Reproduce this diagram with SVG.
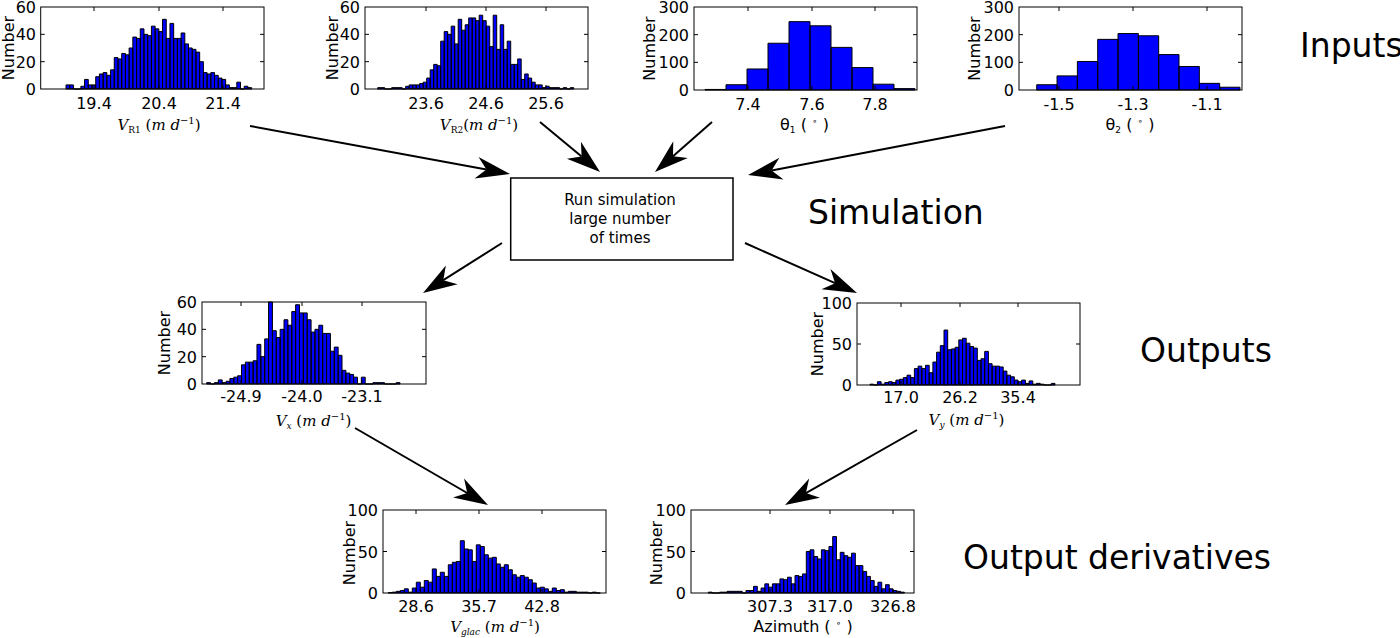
<svg xmlns="http://www.w3.org/2000/svg" width="1400" height="638" viewBox="0 0 1400 638">
<defs>
<style>
.ax{fill:none;stroke:#000;stroke-width:1}
.bar{fill:#0000ff;stroke:#000;stroke-width:1;vector-effect:non-scaling-stroke}
.tk{fill:none;stroke:#000;stroke-width:1}
.t{font-family:"DejaVu Sans",sans-serif;font-size:16px;fill:#000}
.yt{text-anchor:end}
.xt{text-anchor:middle}
.yl{font-size:16px;text-anchor:middle}
.ml{font-family:"DejaVu Serif",serif;font-size:15px;text-anchor:middle;fill:#000}
.it{font-style:italic}
.sb{font-size:9px}
.sp{font-size:10px}
.big{font-family:"DejaVu Sans",sans-serif;font-size:33px;fill:#000}
.bx{font-family:"DejaVu Sans",sans-serif;font-size:15px;text-anchor:middle;fill:#000}
#connectors line{stroke:#000;stroke-width:2;marker-end:url(#ah)}
</style>
<marker id="ah" markerUnits="userSpaceOnUse" viewBox="-2 -13 40 26" refX="10" refY="0" markerWidth="40" markerHeight="26" orient="auto" overflow="visible">
<path d="M34,0 L0,-11 L10,0 L0,11 Z" fill="#000"/>
</marker>
</defs>
<rect width="1400" height="638" fill="#fff"/>

<!-- H1 V_R1 -->
<g id="hist-vr1">
<path class="bar" transform="translate(66,89) scale(3.713,-1.3667)" d="M0,0v3h1v-3zm1,0v3h1v-3zm1,0v0h1v0zm1,0v0h1v0zm1,0v2h1v-2zm1,0v7h1v-7zm1,0v3h1v-3zm1,0v3h1v-3zm1,0v9h1v-9zm1,0v11h1v-11zm1,0v12h1v-12zm1,0v10h1v-10zm1,0v14h1v-14zm1,0v23h1v-23zm1,0v22h1v-22zm1,0v26h1v-26zm1,0v25h1v-25zm1,0v30h1v-30zm1,0v38h1v-38zm1,0v37h1v-37zm1,0v44h1v-44zm1,0v40h1v-40zm1,0v39h1v-39zm1,0v46h1v-46zm1,0v44h1v-44zm1,0v42h1v-42zm1,0v51h1v-51zm1,0v37h1v-37zm1,0v48h1v-48zm1,0v37h1v-37zm1,0v37h1v-37zm1,0v41h1v-41zm1,0v33h1v-33zm1,0v30h1v-30zm1,0v29h1v-29zm1,0v27h1v-27zm1,0v20h1v-20zm1,0v12h1v-12zm1,0v11h1v-11zm1,0v12h1v-12zm1,0v10h1v-10zm1,0v8h1v-8zm1,0v7h1v-7zm1,0v3h1v-3zm1,0v1h1v-1zm1,0v1h1v-1zm1,0v5h1v-5zm1,0v0h1v0zm1,0v2h1v-2zm1,0v1h1v-1z"/>
<rect class="ax" x="40.7" y="7" width="223.3" height="82"/>
<path class="tk" d="M94,89v-4M159,89v-4M223,89v-4M94,7v4M159,7v4M223,7v4M40.7,61.67h4M40.7,34.33h4M264,61.67h-4M264,34.33h-4"/>
<text class="t yt" x="36" y="95">0</text><text class="t yt" x="36" y="67.7">20</text><text class="t yt" x="36" y="40.3">40</text><text class="t yt" x="36" y="13">60</text>
<text class="t xt" x="94" y="109">19.4</text><text class="t xt" x="159" y="109">20.4</text><text class="t xt" x="223" y="109">21.4</text>
<text class="t yl" transform="translate(14,48) rotate(-90)">Number</text>
<text class="ml" x="159" y="130"><tspan class="it">V</tspan><tspan class="sb" dy="3">R1</tspan><tspan dy="-3">  (</tspan><tspan class="it">m d</tspan><tspan class="sp" dy="-6">−1</tspan><tspan dy="6">)</tspan></text>
</g>

<!-- H2 V_R2 -->
<g id="hist-vr2">
<path class="bar" transform="translate(377.7,89) scale(3.5,-1.3667)" d="M0,0v1h1v-1zm1,0v1h1v-1zm1,0v0h1v0zm1,0v0h1v0zm1,0v1h1v-1zm1,0v1h1v-1zm1,0v1h1v-1zm1,0v0h1v0zm1,0v2h1v-2zm1,0v3h1v-3zm1,0v3h1v-3zm1,0v3h1v-3zm1,0v4h1v-4zm1,0v5h1v-5zm1,0v8h1v-8zm1,0v14h1v-14zm1,0v18h1v-18zm1,0v17h1v-17zm1,0v35h1v-35zm1,0v42h1v-42zm1,0v40h1v-40zm1,0v46h1v-46zm1,0v33h1v-33zm1,0v51h1v-51zm1,0v43h1v-43zm1,0v47h1v-47zm1,0v52h1v-52zm1,0v52h1v-52zm1,0v50h1v-50zm1,0v54h1v-54zm1,0v50h1v-50zm1,0v46h1v-46zm1,0v31h1v-31zm1,0v54h1v-54zm1,0v29h1v-29zm1,0v47h1v-47zm1,0v29h1v-29zm1,0v35h1v-35zm1,0v18h1v-18zm1,0v18h1v-18zm1,0v22h1v-22zm1,0v7h1v-7zm1,0v11h1v-11zm1,0v8h1v-8zm1,0v5h1v-5zm1,0v3h1v-3zm1,0v3h1v-3zm1,0v1h1v-1zm1,0v2h1v-2zm1,0v1h1v-1zm1,0v1h1v-1zm1,0v1h1v-1zm1,0v0h1v0zm1,0v1h1v-1zm1,0v0h1v0zm1,0v1h1v-1z"/>
<rect class="ax" x="365" y="7" width="223" height="82"/>
<path class="tk" d="M426,89v-4M486,89v-4M546,89v-4M426,7v4M486,7v4M546,7v4M365,61.67h4M365,34.33h4M588,61.67h-4M588,34.33h-4"/>
<text class="t yt" x="360" y="95">0</text><text class="t yt" x="360" y="67.7">20</text><text class="t yt" x="360" y="40.3">40</text><text class="t yt" x="360" y="13">60</text>
<text class="t xt" x="426" y="109">23.6</text><text class="t xt" x="486" y="109">24.6</text><text class="t xt" x="546" y="109">25.6</text>
<text class="t yl" transform="translate(338,48) rotate(-90)">Number</text>
<text class="ml" x="479" y="130"><tspan class="it">V</tspan><tspan class="sb" dy="3">R2</tspan><tspan dy="-3">(</tspan><tspan class="it">m d</tspan><tspan class="sp" dy="-6">−1</tspan><tspan dy="6">)</tspan></text>
</g>

<!-- H3 theta1 -->
<g id="hist-theta1">
<path class="bar" transform="translate(705,90) scale(21,-0.2767)" d="M0,0v2h1v-2zm1,0v19h1v-19zm1,0v76h1v-76zm1,0v169h1v-169zm1,0v247h1v-247zm1,0v232h1v-232zm1,0v154h1v-154zm1,0v81h1v-81zm1,0v21h1v-21zm1,0v5h1v-5z"/>
<rect class="ax" x="694" y="7" width="223" height="83"/>
<path class="tk" d="M748,90v-4M812,90v-4M875,90v-4M748,7v4M812,7v4M875,7v4M694,62.33h4M694,34.67h4M917,62.33h-4M917,34.67h-4"/>
<text class="t yt" x="689" y="96">0</text><text class="t yt" x="689" y="68.3">100</text><text class="t yt" x="689" y="40.7">200</text><text class="t yt" x="689" y="13">300</text>
<text class="t xt" x="748" y="110">7.4</text><text class="t xt" x="812" y="110">7.6</text><text class="t xt" x="875" y="110">7.8</text>
<text class="t yl" transform="translate(655,48.5) rotate(-90)">Number</text>
<text class="t xt" x="804.5" y="130">θ<tspan class="sb" dy="3">1</tspan><tspan dy="-3"> ( </tspan><tspan class="sb" dy="-6">∘</tspan><tspan dy="6"> )</tspan></text>
</g>

<!-- H4 theta2 -->
<g id="hist-theta2">
<path class="bar" transform="translate(1036.7,90) scale(20.33,-0.2767)" d="M0,0v19h1v-19zm1,0v51h1v-51zm1,0v103h1v-103zm1,0v183h1v-183zm1,0v204h1v-204zm1,0v196h1v-196zm1,0v128h1v-128zm1,0v85h1v-85zm1,0v24h1v-24zm1,0v10h1v-10z"/>
<rect class="ax" x="1019" y="7" width="223" height="83"/>
<path class="tk" d="M1059,90v-4M1133,90v-4M1207,90v-4M1059,7v4M1133,7v4M1207,7v4M1019,62.33h4M1019,34.67h4M1242,62.33h-4M1242,34.67h-4"/>
<text class="t yt" x="1014" y="96">0</text><text class="t yt" x="1014" y="68.3">100</text><text class="t yt" x="1014" y="40.7">200</text><text class="t yt" x="1014" y="13">300</text>
<text class="t xt" x="1059" y="110">-1.5</text><text class="t xt" x="1133" y="110">-1.3</text><text class="t xt" x="1207" y="110">-1.1</text>
<text class="t yl" transform="translate(980,48.5) rotate(-90)">Number</text>
<text class="t xt" x="1130" y="130">θ<tspan class="sb" dy="3">2</tspan><tspan dy="-3"> ( </tspan><tspan class="sb" dy="-6">∘</tspan><tspan dy="6"> )</tspan></text>
</g>

<!-- H5 Vx -->
<g id="hist-vx">
<path class="bar" transform="translate(206.7,384) scale(3.866,-1.3667)" d="M0,0v1h1v-1zm1,0v0h1v0zm1,0v1h1v-1zm1,0v3h1v-3zm1,0v1h1v-1zm1,0v2h1v-2zm1,0v4h1v-4zm1,0v5h1v-5zm1,0v6h1v-6zm1,0v14h1v-14zm1,0v16h1v-16zm1,0v16h1v-16zm1,0v17h1v-17zm1,0v29h1v-29zm1,0v20h1v-20zm1,0v33h1v-33zm1,0v60h1v-60zm1,0v39h1v-39zm1,0v34h1v-34zm1,0v40h1v-40zm1,0v47h1v-47zm1,0v43h1v-43zm1,0v53h1v-53zm1,0v58h1v-58zm1,0v52h1v-52zm1,0v52h1v-52zm1,0v47h1v-47zm1,0v38h1v-38zm1,0v40h1v-40zm1,0v43h1v-43zm1,0v37h1v-37zm1,0v37h1v-37zm1,0v24h1v-24zm1,0v27h1v-27zm1,0v21h1v-21zm1,0v10h1v-10zm1,0v8h1v-8zm1,0v7h1v-7zm1,0v5h1v-5zm1,0v0h1v0zm1,0v5h1v-5zm1,0v0h1v0zm1,0v0h1v0zm1,0v1h1v-1zm1,0v1h1v-1zm1,0v1h1v-1zm1,0v0h1v0zm1,0v0h1v0zm1,0v0h1v0zm1,0v1h1v-1z"/>
<rect class="ax" x="202" y="302" width="224" height="82"/>
<path class="tk" d="M241,384v-4M302,384v-4M362,384v-4M241,302v4M302,302v4M362,302v4M202,356.67h4M202,329.33h4M426,356.67h-4M426,329.33h-4"/>
<text class="t yt" x="197" y="390">0</text><text class="t yt" x="197" y="362.7">20</text><text class="t yt" x="197" y="335.3">40</text><text class="t yt" x="197" y="308">60</text>
<text class="t xt" x="241" y="402">-24.9</text><text class="t xt" x="302" y="402">-24.0</text><text class="t xt" x="362" y="402">-23.1</text>
<text class="t yl" transform="translate(170,343) rotate(-90)">Number</text>
<text class="ml" x="313.5" y="426"><tspan class="it">V</tspan><tspan class="sb it" dy="3">x</tspan><tspan dy="-3">  (</tspan><tspan class="it">m d</tspan><tspan class="sp" dy="-6">−1</tspan><tspan dy="6">)</tspan></text>
</g>

<!-- H6 Vy -->
<g id="hist-vy">
<path class="bar" transform="translate(870,385) scale(3.7,-0.82)" d="M0,0v1h1v-1zm1,0v0h1v0zm1,0v4h1v-4zm1,0v1h1v-1zm1,0v3h1v-3zm1,0v4h1v-4zm1,0v3h1v-3zm1,0v6h1v-6zm1,0v7h1v-7zm1,0v9h1v-9zm1,0v12h1v-12zm1,0v9h1v-9zm1,0v20h1v-20zm1,0v23h1v-23zm1,0v20h1v-20zm1,0v24h1v-24zm1,0v15h1v-15zm1,0v28h1v-28zm1,0v40h1v-40zm1,0v48h1v-48zm1,0v67h1v-67zm1,0v43h1v-43zm1,0v44h1v-44zm1,0v46h1v-46zm1,0v55h1v-55zm1,0v57h1v-57zm1,0v51h1v-51zm1,0v47h1v-47zm1,0v45h1v-45zm1,0v30h1v-30zm1,0v32h1v-32zm1,0v41h1v-41zm1,0v26h1v-26zm1,0v23h1v-23zm1,0v23h1v-23zm1,0v22h1v-22zm1,0v17h1v-17zm1,0v12h1v-12zm1,0v10h1v-10zm1,0v6h1v-6zm1,0v4h1v-4zm1,0v6h1v-6zm1,0v2h1v-2zm1,0v5h1v-5zm1,0v1h1v-1zm1,0v2h1v-2zm1,0v1h1v-1zm1,0v0h1v0zm1,0v0h1v0zm1,0v2h1v-2z"/>
<rect class="ax" x="857" y="303" width="223" height="82"/>
<path class="tk" d="M901,385v-4M960,385v-4M1018,385v-4M901,303v4M960,303v4M1018,303v4M857,344h4M1080,344h-4"/>
<text class="t yt" x="852" y="391">0</text><text class="t yt" x="852" y="350">50</text><text class="t yt" x="852" y="309">100</text>
<text class="t xt" x="901" y="403">17.0</text><text class="t xt" x="960" y="403">26.2</text><text class="t xt" x="1018" y="403">35.4</text>
<text class="t yl" transform="translate(823,344) rotate(-90)">Number</text>
<text class="ml" x="966.5" y="425"><tspan class="it">V</tspan><tspan class="sb it" dy="3">y</tspan><tspan dy="-3">  (</tspan><tspan class="it">m d</tspan><tspan class="sp" dy="-6">−1</tspan><tspan dy="6">)</tspan></text>
</g>

<!-- H7 Vglac -->
<g id="hist-vglac">
<path class="bar" transform="translate(388.3,593) scale(4,-0.83)" d="M0,0v0.5h1v-0.5zm1,0v1h1v-1zm1,0v2h1v-2zm1,0v3h1v-3zm1,0v5h1v-5zm1,0v1h1v-1zm1,0v6h1v-6zm1,0v13h1v-13zm1,0v7h1v-7zm1,0v15h1v-15zm1,0v13h1v-13zm1,0v29h1v-29zm1,0v20h1v-20zm1,0v25h1v-25zm1,0v20h1v-20zm1,0v34h1v-34zm1,0v37h1v-37zm1,0v38h1v-38zm1,0v63h1v-63zm1,0v53h1v-53zm1,0v52h1v-52zm1,0v38h1v-38zm1,0v58h1v-58zm1,0v56h1v-56zm1,0v46h1v-46zm1,0v42h1v-42zm1,0v43h1v-43zm1,0v35h1v-35zm1,0v31h1v-31zm1,0v34h1v-34zm1,0v28h1v-28zm1,0v22h1v-22zm1,0v19h1v-19zm1,0v21h1v-21zm1,0v19h1v-19zm1,0v16h1v-16zm1,0v12h1v-12zm1,0v6h1v-6zm1,0v7h1v-7zm1,0v5h1v-5zm1,0v2h1v-2zm1,0v6h1v-6zm1,0v3h1v-3zm1,0v4h1v-4zm1,0v1h1v-1zm1,0v2h1v-2zm1,0v2h1v-2zm1,0v1h1v-1zm1,0v1h1v-1zm1,0v1h1v-1zm1,0v0h1v0zm1,0v1h1v-1zm1,0v0h1v0z"/>
<rect class="ax" x="383" y="510" width="223" height="83"/>
<path class="tk" d="M416,593v-4M479,593v-4M542,593v-4M416,510v4M479,510v4M542,510v4M383,551.5h4M606,551.5h-4"/>
<text class="t yt" x="378" y="599">0</text><text class="t yt" x="378" y="557.5">50</text><text class="t yt" x="378" y="516">100</text>
<text class="t xt" x="416" y="612">28.6</text><text class="t xt" x="479" y="612">35.7</text><text class="t xt" x="542" y="612">42.8</text>
<text class="t yl" transform="translate(355,553) rotate(-90)">Number</text>
<text class="ml" x="495" y="632"><tspan class="it">V</tspan><tspan class="sb it" dy="3">glac</tspan><tspan dy="-3">  (</tspan><tspan class="it">m d</tspan><tspan class="sp" dy="-6">−1</tspan><tspan dy="6">)</tspan></text>
</g>

<!-- H8 Azimuth -->
<g id="hist-azimuth">
<path class="bar" transform="translate(708.3,593) scale(3.77,-0.83)" d="M0,0v1h1v-1zm1,0v0h1v0zm1,0v0h1v0zm1,0v1h1v-1zm1,0v1h1v-1zm1,0v2h1v-2zm1,0v2h1v-2zm1,0v2h1v-2zm1,0v2h1v-2zm1,0v0h1v0zm1,0v3h1v-3zm1,0v3h1v-3zm1,0v8h1v-8zm1,0v2h1v-2zm1,0v6h1v-6zm1,0v11h1v-11zm1,0v7h1v-7zm1,0v11h1v-11zm1,0v11h1v-11zm1,0v17h1v-17zm1,0v16h1v-16zm1,0v19h1v-19zm1,0v11h1v-11zm1,0v21h1v-21zm1,0v20h1v-20zm1,0v23h1v-23zm1,0v50h1v-50zm1,0v52h1v-52zm1,0v44h1v-44zm1,0v41h1v-41zm1,0v52h1v-52zm1,0v51h1v-51zm1,0v56h1v-56zm1,0v68h1v-68zm1,0v40h1v-40zm1,0v49h1v-49zm1,0v45h1v-45zm1,0v43h1v-43zm1,0v48h1v-48zm1,0v33h1v-33zm1,0v33h1v-33zm1,0v26h1v-26zm1,0v20h1v-20zm1,0v15h1v-15zm1,0v8h1v-8zm1,0v13h1v-13zm1,0v5h1v-5zm1,0v10h1v-10zm1,0v5h1v-5zm1,0v3h1v-3zm1,0v2h1v-2zm1,0v1h1v-1z"/>
<rect class="ax" x="691" y="510" width="223" height="83"/>
<path class="tk" d="M770,593v-4M830,593v-4M893,593v-4M770,510v4M830,510v4M893,510v4M691,551.5h4M914,551.5h-4"/>
<text class="t yt" x="686" y="599">0</text><text class="t yt" x="686" y="557.5">50</text><text class="t yt" x="686" y="516">100</text>
<text class="t xt" x="770" y="612">307.3</text><text class="t xt" x="830" y="612">317.0</text><text class="t xt" x="893" y="612">326.8</text>
<text class="t yl" transform="translate(662,553) rotate(-90)">Number</text>
<text class="t xt" x="803" y="632">Azimuth ( <tspan class="sb" dy="-6">∘</tspan><tspan dy="6"> )</tspan></text>
</g>

<!-- Simulation box -->
<g id="sim-box">
<rect x="510.7" y="178" width="222.3" height="82" fill="#fff" stroke="#000" stroke-width="1.5"/>
<text class="bx" x="620" y="205">Run simulation</text>
<text class="bx" x="620" y="224">large number</text>
<text class="bx" x="620" y="243">of times</text>
</g>

<!-- Section labels -->
<g id="labels">
<text class="big" x="1300" y="57">Inputs</text>
<text class="big" x="808" y="224">Simulation</text>
<text class="big" x="1140" y="362">Outputs</text>
<text class="big" x="963" y="569">Output derivatives</text>
</g>

<g id="connectors">
<line x1="250" y1="126" x2="486.4" y2="169.6"/>
<line x1="540" y1="122" x2="581.6" y2="156.6"/>
<line x1="712" y1="122" x2="673" y2="156.2"/>
<line x1="1005" y1="126" x2="771.6" y2="170.5"/>
<line x1="502" y1="243" x2="443.3" y2="280.2"/>
<line x1="745" y1="243" x2="835.1" y2="283.2"/>
<line x1="355" y1="428" x2="467.2" y2="493"/>
<line x1="917" y1="430" x2="805.9" y2="493.1"/>
</g>
</svg>
